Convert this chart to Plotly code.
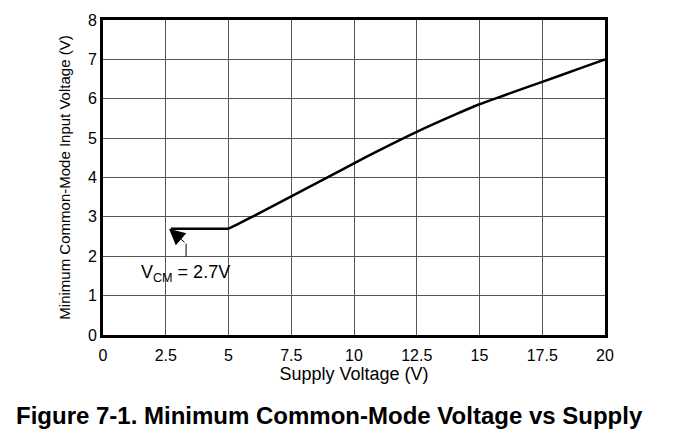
import plotly.graph_objects as go

flat_x = [2.7, 5]
flat_y = [2.7, 2.7]
supply_v = [5, 6, 7.5, 9, 10, 11, 12.5, 14, 15, 16, 17.5, 19, 20]
min_cm_v = [2.7, 3.02, 3.52, 4.02, 4.36, 4.69, 5.16, 5.59, 5.86, 6.09, 6.43, 6.77, 7.0]

x_ticks = [0, 2.5, 5, 7.5, 10, 12.5, 15, 17.5, 20]
x_tick_text = ["0", "2.5", "5", "7.5", "10", "12.5", "15", "17.5", "20"]
y_ticks = [0, 1, 2, 3, 4, 5, 6, 7, 8]

FONT = "Liberation Sans, Arial, sans-serif"
W, H = 679, 442
ML, MR, MT, MB = 103, 74, 17, 107

fig = go.Figure()
fig.add_trace(go.Scatter(x=flat_x, y=flat_y, mode="lines",
                         line=dict(color="black", width=2.5), showlegend=False,
                         hoverinfo="skip"))
fig.add_trace(go.Scatter(x=supply_v, y=min_cm_v, mode="lines",
                         line=dict(color="black", width=2.5, shape="spline", smoothing=0.6),
                         showlegend=False, hoverinfo="skip"))

# white label box
fig.add_shape(type="rect", x0=1.28, x1=5.34, y0=1.03, y1=1.99, xref="x", yref="y",
              fillcolor="white", line=dict(width=0), layer="below")
# callout leader (vertical part)
fig.add_shape(type="line", x0=3.31, x1=3.31, y0=1.99, y1=2.32, xref="x", yref="y",
              line=dict(color="black", width=1))
# callout arrow
fig.add_annotation(x=2.63, y=2.7, ax=3.31, ay=2.32, xref="x", yref="y",
                   axref="x", ayref="y", text="", showarrow=True,
                   arrowhead=2, arrowsize=3.2, arrowwidth=1, arrowcolor="black")
fig.add_annotation(x=3.3, y=1.55, xref="x", yref="y", showarrow=False,
                   text="V<sub>CM</sub> = 2.7V",
                   font=dict(family=FONT, size=18, color="black"))

# caption (pixel position converted to paper coords)
fig.add_annotation(x=(14 - ML) / (W - ML - MR), y=(H - MB - 416) / (H - MT - MB),
                   xref="paper", yref="paper", showarrow=False,
                   text="<b>Figure 7-1. Minimum Common-Mode Voltage vs Supply</b>",
                   font=dict(family=FONT, size=24, color="black"),
                   xanchor="left", yanchor="middle")

fig.update_layout(
    width=W, height=H,
    margin=dict(l=ML, r=MR, t=MT, b=MB),
    paper_bgcolor="white", plot_bgcolor="white",
    font=dict(family=FONT, size=16, color="black"),
    xaxis=dict(range=[0, 20], tickvals=x_ticks, ticktext=x_tick_text,
               showgrid=True, gridcolor="#555", gridwidth=1,
               showline=True, linewidth=3, linecolor="black", mirror=True,
               zeroline=False, ticks="outside", ticklen=4, tickcolor="rgba(0,0,0,0)",
               tickfont=dict(family=FONT, size=16),
               title=dict(text="Supply Voltage (V)", standoff=0,
                          font=dict(family=FONT, size=18))),
    yaxis=dict(range=[0, 8], tickvals=y_ticks,
               showgrid=True, gridcolor="#555", gridwidth=1,
               showline=True, linewidth=3, linecolor="black", mirror=True,
               zeroline=False, ticks="", ticklen=0,
               tickfont=dict(family=FONT, size=16),
               title=dict(text="Minimum Common-Mode Input Voltage (V)", standoff=14,
                          font=dict(family=FONT, size=15))),
)

fig.write_html("out.html")
